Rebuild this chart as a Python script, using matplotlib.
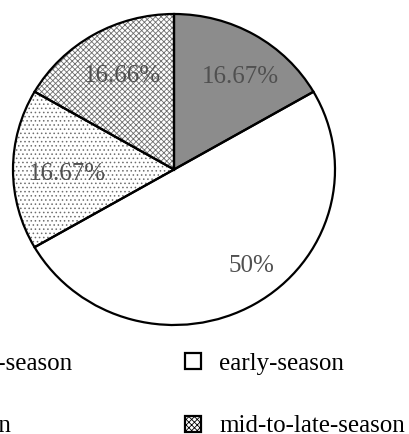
import numpy as np
import matplotlib
matplotlib.use('Agg')
import matplotlib.pyplot as plt
from matplotlib.patches import Patch

plt.rcParams['font.family'] = ['Liberation Serif', 'DejaVu Serif']
plt.rcParams['hatch.linewidth'] = 0.6

# data (clockwise from 12 o'clock)
categories = ['early-mid-season', 'early-season', 'late-season', 'mid-to-late-season']
shares = [16.67, 50, 16.67, 16.66]
pct_labels = ['16.67%', '50%', '16.67%', '16.66%']

face_colors = ['#8c8c8c', 'white', 'white', 'white']
hatches = [None, None, '....', 'xxxxxx']
hatch_color = '#6e6e6e'
# small nudges of the percentage labels (axes units)
label_dx = [0.05, 0.12, 0.06, 0.04]
label_dy = [-0.03, 0.0, -0.03, -0.02]

fig = plt.figure(figsize=(4.09, 4.34), dpi=100)
W, H = 409, 434
cx, cy, rx, ry = 174, 434 - 169.5, 161, 155.5
L = 1.05
ax = fig.add_axes([(cx - L*rx)/W, (cy - L*ry)/H, 2*L*rx/W, 2*L*ry/H])

# fill + hatch layer (hatch takes the edge colour, edge itself has 0 width)
wedges, texts = ax.pie(shares, colors=face_colors, startangle=90, counterclock=False,
                       labels=pct_labels, labeldistance=0.72,
                       wedgeprops=dict(edgecolor=hatch_color, linewidth=0))
for w, h in zip(wedges, hatches):
    if h:
        w.set_hatch(h)
for t, dx, dy in zip(texts, label_dx, label_dy):
    x, y = t.get_position()
    t.set_position((x + dx, y + dy))
    t.set_ha('center')
    t.set_va('center')
    t.set_fontsize(18)
    t.set_color('#505050')

# outline layer
ax.pie(shares, startangle=90, counterclock=False,
       wedgeprops=dict(fill=False, edgecolor='black', linewidth=1.6))

ax.set_aspect('auto')
ax.set_xlim(-L, L)
ax.set_ylim(-L, L)
ax.axis('off')

# legend (row-major order as in the source, left column falls off the canvas)
handles = []
for c, h in zip(face_colors, hatches):
    handles.append(Patch(facecolor=c, edgecolor='black', hatch=h, linewidth=1.6))
order = [0, 2, 1, 3]
fig.legend([handles[i] for i in order], [categories[i] for i in order],
           ncol=2, loc='upper right', bbox_to_anchor=(405/W, 1 - 353/H),
           frameon=False, fontsize=18, handlelength=0.62, handleheight=0.62,
           handletextpad=0.75, columnspacing=4.5, labelspacing=1.62,
           borderpad=0, borderaxespad=0)

fig.savefig('out.png', dpi=100)
